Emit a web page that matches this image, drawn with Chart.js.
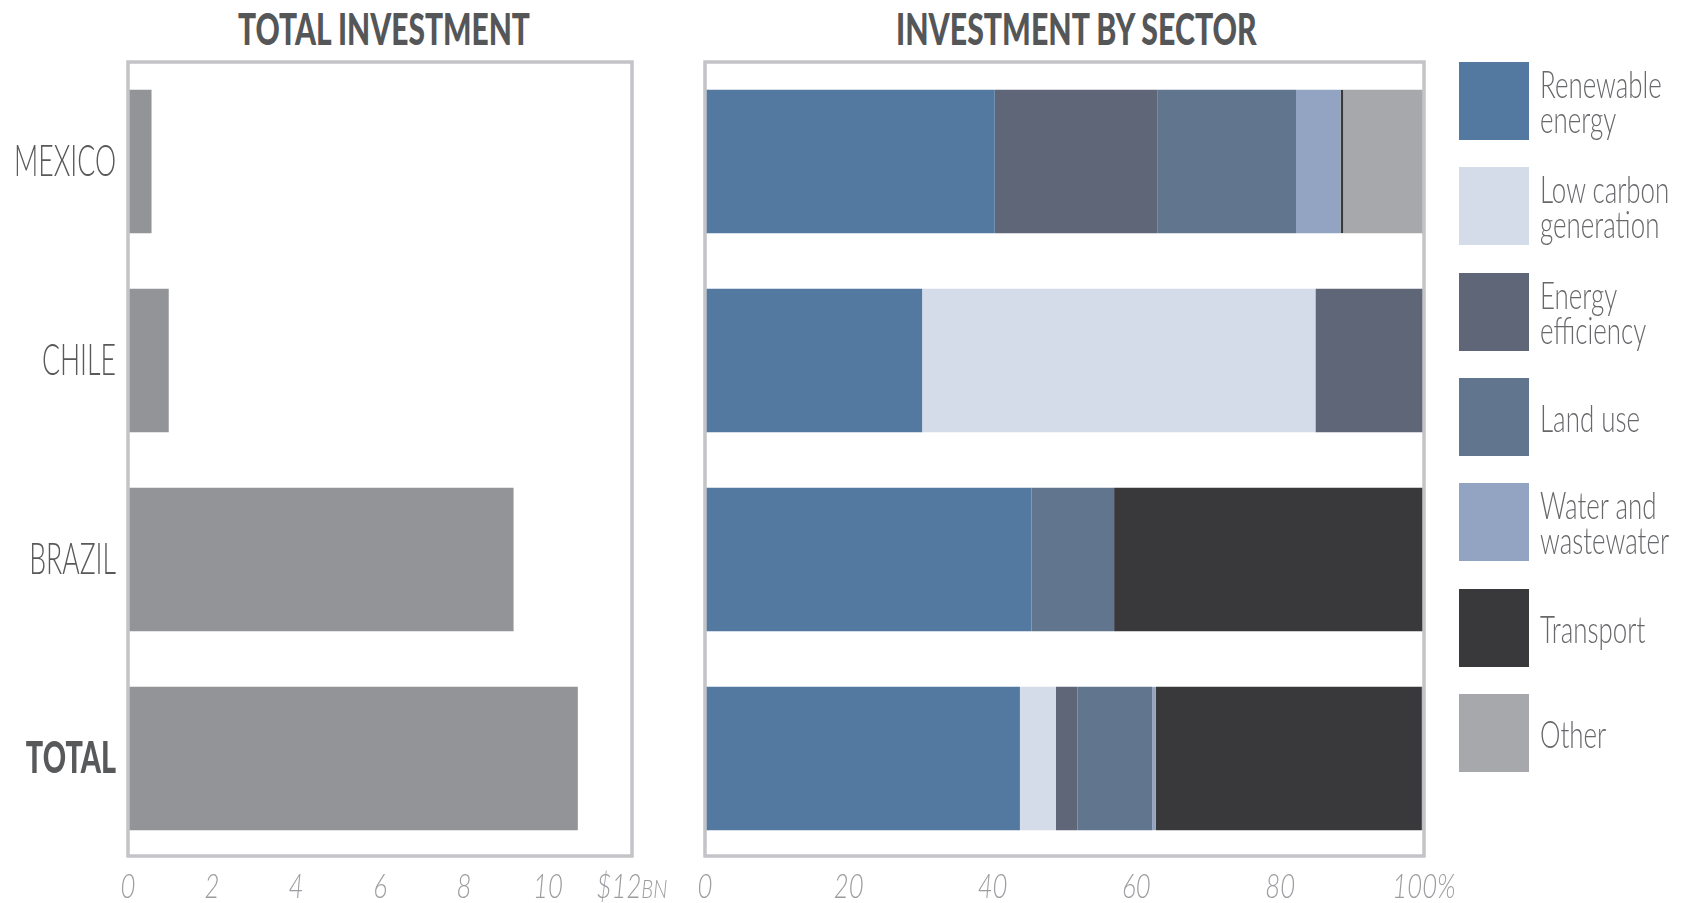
<!DOCTYPE html>
<html>
<head>
<meta charset="utf-8">
<script src="https://cdn.jsdelivr.net/npm/chart.js@4.4.1/dist/chart.umd.min.js"></script>
<style>
  html, body { margin: 0; padding: 0; background: #fff; }
  body { width: 1682px; height: 903px; position: relative; overflow: hidden; font-family: Lato, "Open Sans", sans-serif; }
  .box { position: absolute; top: 0; height: 903px; }
  .title { position: absolute; top: 6px; font-weight: 900; font-size: 44px; line-height: 44px; color: #555658; white-space: nowrap; transform-origin: left center; }
  .legend-item { position: absolute; left: 1459px; height: 78px; width: 220px; }
  .swatch { position: absolute; left: 0; top: 0; width: 70px; height: 78px; }
  .legend-text { position: absolute; left: 81px; top: 50%; transform: translateY(-50%) scaleX(0.7); transform-origin: left center;
                 font-weight: 300; font-size: 37px; line-height: 35px; color: #67686b; white-space: nowrap; }
</style>
</head>
<body>
<div class="title" id="title1" data-left="238" data-width="292">TOTAL INVESTMENT</div>
<div class="title" id="title2" data-left="896" data-width="361">INVESTMENT BY SECTOR</div>
<div class="box" style="left:0; width:700px;"><canvas id="totalChart"></canvas></div>
<div class="box" style="left:660px; width:800px;"><canvas id="sectorChart"></canvas></div>
<div id="legend"></div>

<script>
// 국가 / 총 투자액 (십억 달러)
const countries = ['MEXICO', 'CHILE', 'BRAZIL', 'TOTAL'];
const totalInvestment = [0.56, 0.97, 9.18, 10.71];
const investTicks = ['0', '2', '4', '6', '8', '10', '$12BN'];

// 부문별 비중 (%)
const sectors = ['Renewable energy', 'Low carbon generation', 'Energy efficiency', 'Land use', 'Water and wastewater', 'Transport', 'Other'];
const legendLines = [['Renewable', 'energy'], ['Low carbon', 'generation'], ['Energy', 'efficiency'], ['Land use'], ['Water and', 'wastewater'], ['Transport'], ['Other']];
const sectorColors = ['#5479a1', '#d5dce9', '#5e6677', '#62758e', '#92a4c1', '#39393b', '#a7a8ab'];
const renewable  = [40.3, 30.2, 45.4, 43.8];
const lowCarbon  = [0, 54.7, 0, 5.0];
const efficiency = [22.6, 15.1, 0, 3.0];
const landUse    = [19.3, 0, 11.5, 10.4];
const water      = [6.2, 0, 0, 0.5];
const transport  = [0.35, 0, 43.1, 37.0];
const other      = [11.3, 0, 0, 0.3];
const shareTicks = ['0', '20', '40', '60', '80', '100%'];

// 차트 영역 테두리
const framePlugin = {
    id: 'frame',
    afterDatasetsDraw(chart) {
        const { ctx, chartArea: a } = chart;
        ctx.save();
        ctx.strokeStyle = '#c3c4c7';
        ctx.lineWidth = 3.5;
        ctx.strokeRect(a.left, a.top, a.right - a.left, a.bottom - a.top - 2);
        ctx.restore();
    }
};

// 국가 라벨 (좁은 글꼴 흉내)
const countryLabelPlugin = {
    id: 'countryLabels',
    afterDraw(chart) {
        const { ctx } = chart;
        const y = chart.scales.y;
        ctx.save();
        ctx.fillStyle = '#58595b';
        ctx.textAlign = 'right';
        ctx.textBaseline = 'middle';
        countries.forEach((c, i) => {
            const bold = c === 'TOTAL';
            ctx.save();
            ctx.translate(y.right - 12, y.getPixelForTick(i) + 1);
            ctx.scale(bold ? 0.67 : 0.62, 1);
            ctx.font = (bold ? '900 ' : '300 ') + '43px Lato, sans-serif';
            ctx.fillText(c, 0, 0);
            ctx.restore();
        });
        ctx.restore();
    }
};

// x축 눈금 라벨 (기울임 + 좁게, 단위는 작게)
const tickLabelPlugin = {
    id: 'tickLabels',
    afterDraw(chart, args, opts) {
        const { ctx } = chart;
        const x = chart.scales.x;
        const sx = 0.78;
        ctx.save();
        ctx.fillStyle = '#9c9da1';
        ctx.textBaseline = 'alphabetic';
        ctx.textAlign = 'left';
        x.ticks.forEach((t, i) => {
            const label = opts.labels[i];
            if (label === undefined) return;
            const m = label.match(/^(.*?\d)([A-Z]+)$/);
            const main = m ? m[1] : label;
            const unit = m ? m[2] : '';
            ctx.font = 'italic 300 33px Lato, sans-serif';
            const wMain = ctx.measureText(main).width;
            ctx.font = 'italic 300 26px Lato, sans-serif';
            const wUnit = unit ? ctx.measureText(unit).width : 0;
            const total = (wMain + wUnit) * sx;
            ctx.save();
            ctx.translate(x.getPixelForTick(i) - total / 2, x.top + 40);
            ctx.scale(sx, 1);
            ctx.font = 'italic 300 33px Lato, sans-serif';
            ctx.fillText(main, 0, 0);
            if (unit) {
                ctx.font = 'italic 300 26px Lato, sans-serif';
                ctx.fillText(unit, wMain, 0);
            }
            ctx.restore();
        });
        ctx.restore();
    }
};

function xAxis(max, step) {
    return {
        min: 0, max: max,
        stacked: true,
        grid: { display: false, drawTicks: false },
        border: { display: false },
        ticks: { stepSize: step, display: false },
        afterFit: (scale) => {
            scale.height = 45;
            scale.paddingLeft = 0;
            scale.paddingRight = 0;
        }
    };
}

// 왼쪽: 총 투자액
new Chart(document.getElementById('totalChart'), {
    type: 'bar',
    data: {
        labels: countries,
        datasets: [{
            data: totalInvestment,
            backgroundColor: '#939498',
            borderWidth: 0,
            categoryPercentage: 1,
            barPercentage: 0.72
        }]
    },
    options: {
        indexAxis: 'y',
        responsive: true,
        maintainAspectRatio: false,
        animation: false,
        layout: { padding: { top: 62, right: 68, left: 0, bottom: 0 } },
        plugins: {
            legend: { display: false },
            tooltip: { enabled: false },
            tickLabels: { labels: investTicks }
        },
        scales: {
            x: xAxis(12, 2),
            y: {
                grid: { display: false },
                border: { display: false },
                ticks: { display: false },
                afterFit: (scale) => { scale.width = 128; }
            }
        }
    },
    plugins: [framePlugin, countryLabelPlugin, tickLabelPlugin]
});

// 오른쪽: 부문별 비중 (누적 막대)
const sectorValues = [renewable, lowCarbon, efficiency, landUse, water, transport, other];
new Chart(document.getElementById('sectorChart'), {
    type: 'bar',
    data: {
        labels: countries,
        datasets: sectors.map((s, i) => ({
            label: s,
            data: sectorValues[i],
            backgroundColor: sectorColors[i],
            borderWidth: 0,
            categoryPercentage: 1,
            barPercentage: 0.72
        }))
    },
    options: {
        indexAxis: 'y',
        responsive: true,
        maintainAspectRatio: false,
        animation: false,
        layout: { padding: { top: 62, right: 36, left: 45, bottom: 0 } },
        plugins: {
            legend: { display: false },
            tooltip: { enabled: false },
            tickLabels: { labels: shareTicks }
        },
        scales: {
            x: xAxis(100, 20),
            y: { display: false, stacked: true }
        }
    },
    plugins: [framePlugin, tickLabelPlugin]
});

// 범례 (HTML)
const legendEl = document.getElementById('legend');
legendLines.forEach((lines, i) => {
    const item = document.createElement('div');
    item.className = 'legend-item';
    item.style.top = (62 + i * 105.3) + 'px';
    item.innerHTML = `<div class="swatch" style="background:${sectorColors[i]}"></div>
        <div class="legend-text">${lines.join('<br>')}</div>`;
    legendEl.appendChild(item);
});

// 제목 폭 맞추기
document.querySelectorAll('.title').forEach(el => {
    const w = el.offsetWidth;
    el.style.left = el.dataset.left + 'px';
    el.style.transform = `scaleX(${el.dataset.width / w})`;
});
</script>
</body>
</html>
